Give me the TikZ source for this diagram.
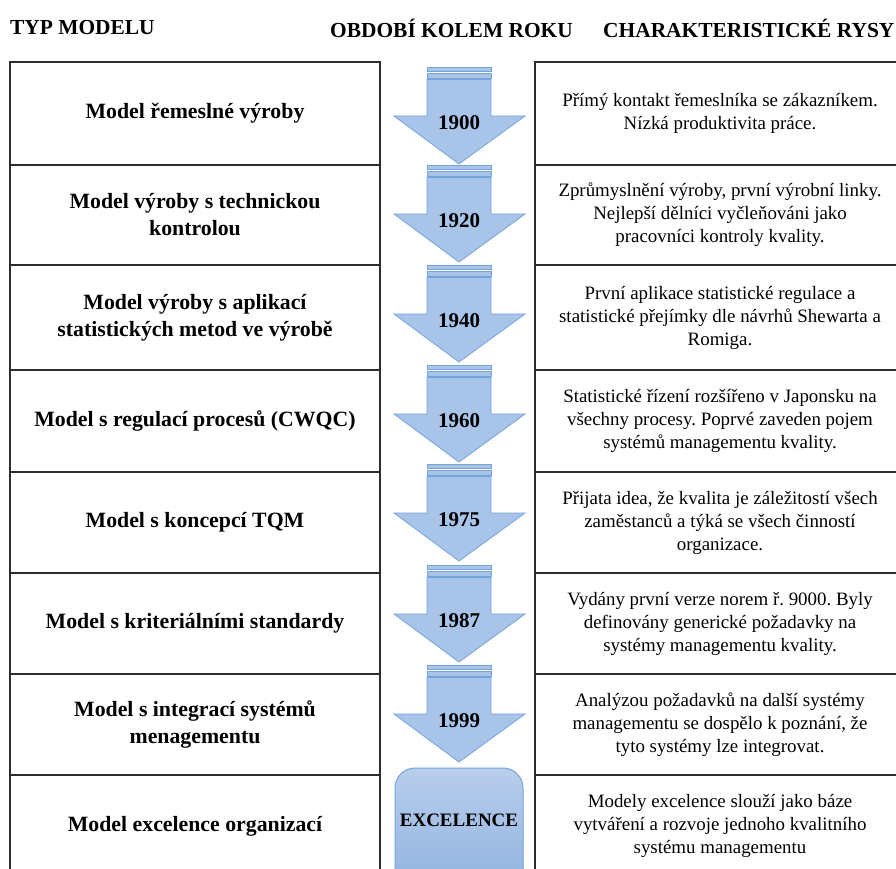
\documentclass[tikz,border=0pt]{standalone}
\usepackage{fontspec}
\setmainfont{Liberation Serif}
\frenchspacing
\definecolor{gridline}{RGB}{45,45,45}
\definecolor{arrowfill}{RGB}{168,196,233}
\definecolor{arrowedge}{RGB}{118,163,218}
\definecolor{boxtop}{RGB}{184,206,236}
\definecolor{boxbottom}{RGB}{143,178,224}
% one striped down-arrow of the timeline; #1 = top edge, #2 = year, #3 = node name
\newcommand\yeararrow[3]{%
  \fill[arrowfill, draw=arrowedge, line width=0.8pt] (427,#1) rectangle (491,#1+4.5);
  \fill[arrowfill, draw=arrowedge, line width=0.8pt] (427,#1+6) rectangle (491,#1+11);
  \filldraw[arrowfill, draw=arrowedge, line width=0.8pt]
    (427,#1+12.5) -- (491,#1+12.5) -- (491,#1+49) -- (525,#1+49)
    -- (459,#1+97) -- (394,#1+49) -- (427,#1+49) -- cycle;
  \node[yeartext] (#3) at (459,#1+56) {#2};}
\begin{document}
\begin{tikzpicture}[x=1pt,y=-1pt,
  header/.style={anchor=west, inner sep=0pt, font=\fontsize{21.4}{24}\selectfont\bfseries},
  modelcell/.style={draw=gridline, line width=1.4pt, minimum width=370pt, align=center,
    inner sep=0pt, font=\fontsize{21.8}{27}\selectfont\bfseries},
  featurecell/.style={draw=gridline, line width=1.4pt, minimum width=370pt, align=center,
    inner sep=0pt, font=\fontsize{18.9}{23}\selectfont\frenchspacing},
  yeartext/.style={inner sep=0pt, font=\fontsize{21}{24}\selectfont\bfseries},
  goalbox/.style={draw=arrowedge, line width=1pt, rounded corners=20pt,
    top color=boxtop, bottom color=boxbottom, minimum width=128pt, minimum height=127pt}]
\useasboundingbox (0,0) rectangle (896,869);
\fill[white] (0,0) rectangle (896,869);

% column headings
\node[header] (h1) at (10,28) {TYP MODELU};
\node[header] (h2) at (330,28) {OBDOBÍ KOLEM ROKU};
\node[header] (h3) at (603,28) {CHARAKTERISTICKÉ RYSY};

% left column: model types
\node[modelcell, minimum height=103pt] (m1) at (195,113.5) {Model řemeslné výroby};
\node[modelcell, minimum height=100pt] (m2) at (195,215) {Model výroby s technickou\\kontrolou};
\node[modelcell, minimum height=105pt] (m3) at (195,317.5) {Model výroby s aplikací\\statistických metod ve výrobě};
\node[modelcell, minimum height=102pt] (m4) at (195,421) {Model s regulací procesů (CWQC)};
\node[modelcell, minimum height=101pt] (m5) at (195,522.5) {Model s koncepcí TQM};
\node[modelcell, minimum height=101pt] (m6) at (195,623.5) {Model s kriteriálními standardy};
\node[modelcell, minimum height=101pt] (m7) at (195,724.5) {Model s integrací systémů\\menagementu};
\node[modelcell, minimum height=102pt] (m8) at (195,826) {Model excelence organizací};

% right column: characteristic features
\node[featurecell, minimum height=103pt] (f1) at (720,113.5) {Přímý kontakt řemeslníka se zákazníkem.\\Nízká produktivita práce.};
\node[featurecell, minimum height=100pt] (f2) at (720,215) {Zprůmyslnění výroby, první výrobní linky.\\Nejlepší dělníci vyčleňováni jako\\pracovníci kontroly kvality.};
\node[featurecell, minimum height=105pt] (f3) at (720,317.5) {První aplikace statistické regulace a\\statistické přejímky dle návrhů Shewarta a\\Romiga.};
\node[featurecell, minimum height=102pt] (f4) at (720,421) {Statistické řízení rozšířeno v Japonsku na\\všechny procesy. Poprvé zaveden pojem\\systémů managementu kvality.};
\node[featurecell, minimum height=101pt] (f5) at (720,522.5) {Přijata idea, že kvalita je záležitostí všech\\zaměstanců a týká se všech činností\\organizace.};
\node[featurecell, minimum height=101pt] (f6) at (720,623.5) {Vydány první verze norem ř. 9000. Byly\\definovány generické požadavky na\\systémy managementu kvality.};
\node[featurecell, minimum height=101pt] (f7) at (720,724.5) {Analýzou požadavků na další systémy\\managementu se dospělo k poznání, že\\tyto systémy lze integrovat.};
\node[featurecell, minimum height=102pt] (f8) at (720,826) {Modely excelence slouží jako báze\\vytváření a rozvoje jednoho kvalitního\\systému managementu};

% middle column: timeline arrows
\yeararrow{67}{1900}{y1}
\yeararrow{165}{1920}{y2}
\yeararrow{265}{1940}{y3}
\yeararrow{365}{1960}{y4}
\yeararrow{464}{1975}{y5}
\yeararrow{565}{1987}{y6}
\yeararrow{665}{1999}{y7}

% final goal
\node[goalbox] (goal) at (459,831.5) {};
\node[yeartext, font=\fontsize{19}{22}\selectfont\bfseries] (goaltext) at (459,820) {EXCELENCE};
\end{tikzpicture}
\end{document}
